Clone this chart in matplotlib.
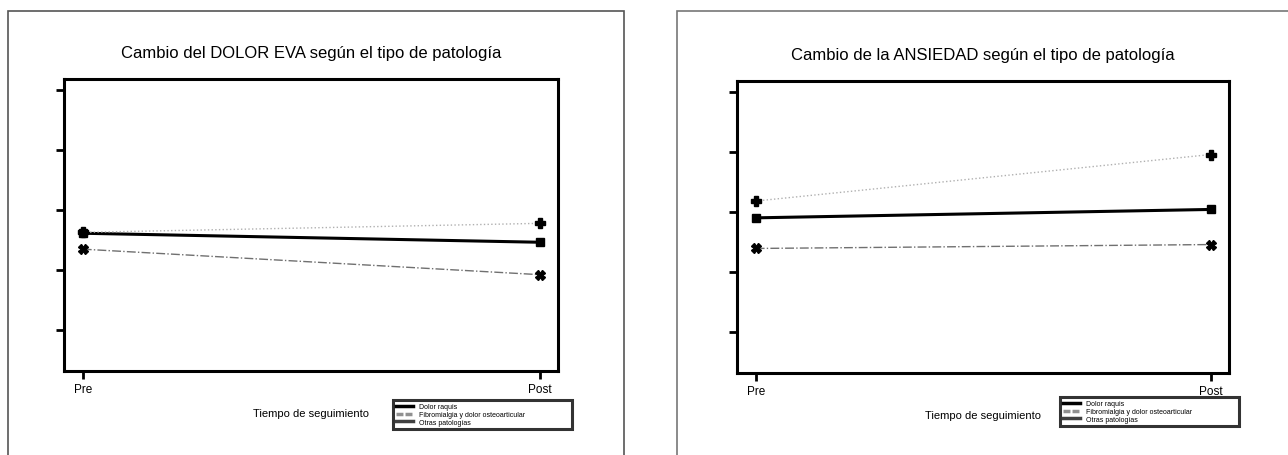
import matplotlib.pyplot as plt
from matplotlib.lines import Line2D
from matplotlib.patches import Rectangle

plt.rcParams["font.family"] = ["Liberation Sans", "DejaVu Sans"]

tiempos = ["Pre", "Post"]
grupos = ["Dolor raquis", "Fibromialgia y dolor osteoarticular", "Otras patologías"]

titulos = [
    "Cambio del DOLOR EVA según el tipo de patología",
    "Cambio de la ANSIEDAD según el tipo de patología",
]

# valores medios (escala arbitraria, sin etiquetas en el eje y)
dolor_eva = [
    [5.24, 4.94],
    [5.27, 5.57],
    [4.71, 3.86],
]
ansiedad = [
    [5.82, 6.10],
    [6.38, 7.93],
    [4.80, 4.93],
]
y_ticks = [2, 4, 6, 8, 10]

estilos = [
    dict(color="black", lw=2.2, ls="-", marker="s", ms=6),
    dict(color="#b0b0b0", lw=1.0, ls=":", marker="P", ms=7),
    dict(color="#707070", lw=1.0, ls="-.", marker="X", ms=7),
]

fig = plt.figure(figsize=(12.88, 4.56), dpi=100)

# marcos exteriores de cada panel
fig.patches.append(Rectangle((8 / 1288, -0.1), 616 / 1288, 1.1 - 12 / 456,
                             transform=fig.transFigure, fill=False,
                             ec="#555555", lw=1.2))
fig.patches.append(Rectangle((677 / 1288, -0.1), 0.6, 1.1 - 12 / 456,
                             transform=fig.transFigure, fill=False,
                             ec="#777777", lw=1.2))

posiciones = [
    [64 / 1288, 84 / 456, 494 / 1288, 292 / 456],
    [737 / 1288, 82 / 456, 492 / 1288, 292 / 456],
]
# cajas de leyenda (x0, y0, ancho, alto) en fraccion de figura
leyendas = [
    (393 / 1288, 1 - 430 / 456, 179 / 1288, 29 / 456),
    (1060 / 1288, 1 - 428 / 456, 179 / 1288, 30 / 456),
]

for i, datos in enumerate([dolor_eva, ansiedad]):
    ax = fig.add_axes(posiciones[i])
    x = range(len(tiempos))
    for j, serie in enumerate(datos):
        st = estilos[j]
        ax.plot(x, serie, color=st["color"], lw=st["lw"], ls=st["ls"])
        ax.plot(x, serie, ls="none", marker=st["marker"], ms=st["ms"],
                color="black", mec="black")

    ax.set_xlim(-0.041, 1.04)
    ax.set_ylim(0.65, 10.38)
    ax.set_xticks(list(x))
    ax.set_xticklabels(tiempos, fontsize=8.5)
    ax.set_yticks(y_ticks)
    ax.set_yticklabels([])
    ax.tick_params(axis="both", direction="out", length=6, width=2, pad=3)
    for sp in ax.spines.values():
        sp.set_linewidth(2.2)

    ax.set_title(titulos[i], fontsize=12, pad=16)
    ax.set_xlabel("Tiempo de seguimiento", fontsize=8, labelpad=9)

    handles = [
        Line2D([], [], color="black", lw=2.5),
        Line2D([], [], color="#909090", lw=2.5, ls=(0, (2, 0.6))),
        Line2D([], [], color="#404040", lw=2.5),
    ]
    leg = ax.legend(handles, grupos, loc="upper left", mode="expand",
                    bbox_to_anchor=leyendas[i],
                    bbox_transform=fig.transFigure, fontsize=5,
                    frameon=True, fancybox=False, handlelength=2.4,
                    handletextpad=0.9, labelspacing=0.1, borderpad=0.5,
                    borderaxespad=0)
    leg.get_frame().set_edgecolor("black")
    leg.get_frame().set_linewidth(2.2)

fig.savefig("out.png", dpi=100)
plt.close()
